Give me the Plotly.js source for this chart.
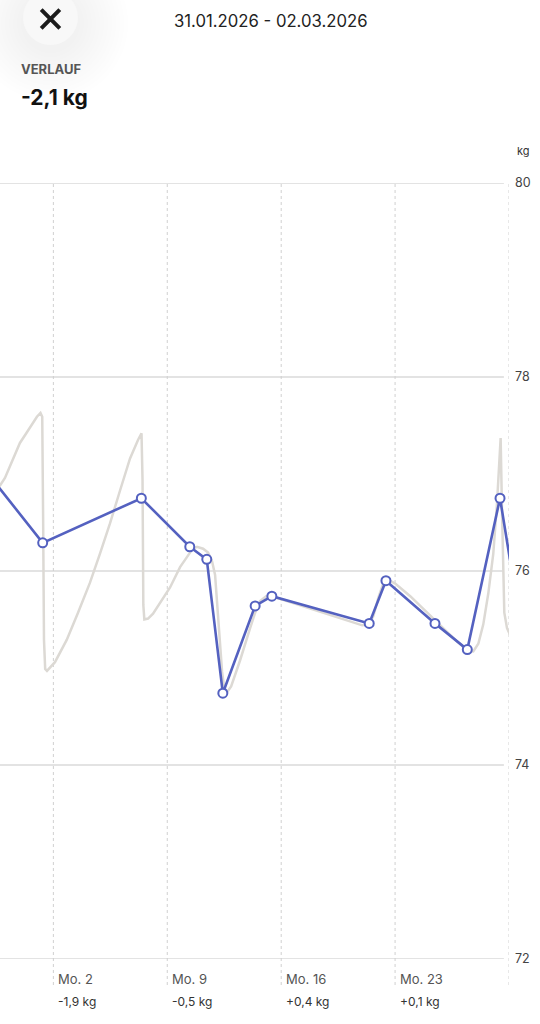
<!DOCTYPE html>
<html><head><meta charset="utf-8">
<script src="https://cdn.plot.ly/plotly-3.0.1.min.js"></script>
<style>html,body{margin:0;padding:0;background:#fff;overflow:hidden}#chart{width:540px;height:1024px}</style>
</head><body><div id="chart"></div>
<script>
// ---------- data ----------
const dateRangeText = '31.01.2026 - 02.03.2026';
const summaryLabel = 'VERLAUF';
const summaryValue = '-2,1 kg';
const unitLabel = 'kg';

const weighDates = ['2026-01-29 09:00','2026-02-01 08:15','2026-02-07 09:45','2026-02-10 09:10','2026-02-11 10:15','2026-02-12 09:55','2026-02-14 09:35','2026-02-15 10:15','2026-02-21 09:50','2026-02-22 10:30','2026-02-25 10:50','2026-02-27 10:30','2026-03-01 10:45','2026-03-02 09:45'];
const weights = [76.92, 76.29, 76.75, 76.25, 76.12, 74.74, 75.64, 75.74, 75.46, 75.90, 75.46, 75.19, 76.75, 75.76];

const trendDates = ['2026-01-29 05:20','2026-01-29 17:10','2026-01-30 00:35','2026-01-30 12:20','2026-01-30 22:40','2026-01-31 09:00','2026-01-31 17:50','2026-01-31 23:45','2026-02-01 05:00','2026-02-01 07:35','2026-02-01 08:55','2026-02-01 10:10','2026-02-01 11:55','2026-02-01 14:35','2026-02-02 02:20','2026-02-02 19:40','2026-02-03 12:20','2026-02-04 06:00','2026-02-04 20:45','2026-02-05 11:30','2026-02-06 02:20','2026-02-06 17:05','2026-02-07 04:50','2026-02-07 10:00','2026-02-07 11:30','2026-02-07 12:40','2026-02-07 14:10','2026-02-07 19:40','2026-02-08 03:00','2026-02-08 16:20','2026-02-09 04:05','2026-02-09 18:50','2026-02-10 05:10','2026-02-10 12:35','2026-02-10 19:55','2026-02-11 04:50','2026-02-11 12:10','2026-02-11 18:05','2026-02-11 22:30','2026-02-12 02:55','2026-02-12 05:55','2026-02-12 08:50','2026-02-12 11:50','2026-02-12 16:15','2026-02-12 22:10','2026-02-13 11:25','2026-02-14 02:10','2026-02-14 09:35','2026-02-14 16:55','2026-02-15 01:50','2026-02-15 10:40','2026-02-16 13:15','2026-02-17 18:45','2026-02-19 00:15','2026-02-20 05:45','2026-02-20 23:30','2026-02-21 08:20','2026-02-21 15:45','2026-02-21 23:05','2026-02-22 06:30','2026-02-22 13:50','2026-02-23 00:10','2026-02-23 22:20','2026-02-24 20:30','2026-02-25 18:40','2026-02-26 16:45','2026-02-27 10:30','2026-02-27 19:20','2026-02-28 02:45','2026-02-28 10:05','2026-02-28 17:30','2026-03-01 00:50','2026-03-01 06:20','2026-03-01 09:45','2026-03-01 11:40','2026-03-01 13:40','2026-03-01 15:10','2026-03-01 17:05','2026-03-01 21:05','2026-03-02 04:55'];
const trendWeights = [76.81,76.88,76.96,77.16,77.32,77.43,77.53,77.59,77.63,77.59,76.52,75.29,74.99,74.97,75.06,75.29,75.57,75.88,76.18,76.49,76.83,77.16,77.35,77.42,76.94,75.65,75.50,75.51,75.56,75.70,75.83,76.04,76.15,76.22,76.25,76.23,76.19,76.10,75.96,75.57,75.23,74.96,74.80,74.75,74.81,75.08,75.41,75.57,75.69,75.74,75.74,75.68,75.61,75.54,75.48,75.44,75.45,75.53,75.72,75.87,75.91,75.87,75.74,75.59,75.43,75.29,75.18,75.17,75.25,75.45,75.77,76.18,76.70,77.14,77.37,76.63,76.04,75.57,75.41,75.29];

const weekStarts = ['2026-02-02','2026-02-09','2026-02-16','2026-02-23'];
const weekLabels = ['Mo. 2','Mo. 9','Mo. 16','Mo. 23'];
const weekChanges = ['-1,9 kg','-0,5 kg','+0,4 kg','+0,1 kg'];
const gridDates = weekStarts.concat(['2026-03-02']);
const yTicks = [72, 74, 76, 78, 80];
const xRange = ['2026-01-29 17:17', '2026-03-02 00:00'];
const yRange = [72, 80];

// ---------- styling ----------
const FONT = 'Inter, "Noto Sans", Roboto, sans-serif';
const BLUE = '#5461c0';
const TREND = '#dcd9d4';
const M = {l: 0, r: 31, t: 183, b: 65};
const W = 540, H = 1024;
const PW = W - M.l - M.r, PH = H - M.t - M.b;
const px2paperX = p => (p - M.l) / PW;
const shiftFromTop = p => M.t - p; // yshift from paper y=1

const shapes = [];
yTicks.forEach(v => shapes.push({type:'line', xref:'paper', yref:'y', x0:0, x1:0.99, y0:v, y1:v,
  line:{color:'#dadada', width:1.3}, layer:'below'}));
gridDates.forEach(d => shapes.push({type:'line', xref:'x', yref:'paper', x0:d, x1:d, y0:-26/PH, y1:1,
  line:{color:'#d0d0d0', width:1, dash:'dot'}, layer:'below'}));
const bx = px2paperX(50.5), by = 1 + (M.t - 17.5) / PH;
for (let r = 30; r <= 80; r += 4) {
  shapes.push({type:'circle', xref:'paper', yref:'paper', xsizemode:'pixel', ysizemode:'pixel',
    xanchor:bx, yanchor:by, x0:-r, x1:r, y0:-r-6, y1:r-6,
    fillcolor:'rgba(0,0,0,0.0055)', line:{width:0}, layer:'above'});
}
shapes.push({type:'circle', xref:'paper', yref:'paper', xsizemode:'pixel', ysizemode:'pixel',
  xanchor:bx, yanchor:by, x0:-27.5, x1:27.5, y0:-27.5, y1:27.5,
  fillcolor:'#f8f8f8', line:{width:0}, layer:'above'});
shapes.push({type:'path', xref:'paper', yref:'paper', xsizemode:'pixel', ysizemode:'pixel',
  xanchor:bx, yanchor:by - 1.5/PH, path:'M-9.3,-9.3 L9.3,9.3 M-9.3,9.3 L9.3,-9.3',
  line:{color:'#1b1b1b', width:4}, layer:'above'});

const annotations = [
  {xref:'paper', yref:'paper', x:px2paperX(270), y:1, yshift:shiftFromTop(20.7), xanchor:'center', yanchor:'middle',
   text:dateRangeText, showarrow:false, font:{family:FONT, size:16.7, color:'#222'}},
  {xref:'paper', yref:'paper', x:0, xshift:19, y:1, yshift:shiftFromTop(68.9), xanchor:'left', yanchor:'middle',
   text:summaryLabel, showarrow:false, font:{family:FONT, size:13, color:'#555', weight:700}},
  {xref:'paper', yref:'paper', x:0, xshift:18.5, y:1, yshift:shiftFromTop(97.5), xanchor:'left', yanchor:'middle',
   text:summaryValue, showarrow:false, font:{family:FONT, size:21, color:'#111', weight:700}},
  {xref:'paper', yref:'paper', x:1, xshift:6, y:1, yshift:shiftFromTop(150.7), xanchor:'left', yanchor:'middle',
   text:unitLabel, showarrow:false, font:{family:FONT, size:11, color:'#333'}}
];
weekStarts.forEach((d, i) => {
  annotations.push({xref:'x', yref:'paper', x:d, xshift:2.5, y:0, yshift:-20, xanchor:'left', yanchor:'middle',
    text:weekLabels[i], showarrow:false, font:{family:FONT, size:13, color:'#555'}});
  annotations.push({xref:'x', yref:'paper', x:d, xshift:2.5, y:0, yshift:-42, xanchor:'left', yanchor:'middle',
    text:weekChanges[i], showarrow:false, font:{family:FONT, size:12, color:'#333'}});
});

const traces = [
  {type:'scatter', mode:'lines', x:trendDates, y:trendWeights, hoverinfo:'skip',
   line:{color:TREND, width:2.5, shape:'linear'}},
  {type:'scatter', mode:'lines+markers', x:weighDates, y:weights, hoverinfo:'skip',
   line:{color:BLUE, width:2.6},
   marker:{size:9, color:'#ffffff', line:{color:BLUE, width:2}}}
];

const layout = {
  width:W, height:H, margin:Object.assign({autoexpand:false, pad:0}, M),
  paper_bgcolor:'#ffffff', plot_bgcolor:'#ffffff', showlegend:false,
  xaxis:{type:'date', range:xRange, showgrid:false, zeroline:false, showline:false,
    showticklabels:false, ticks:'', automargin:false, fixedrange:true},
  yaxis:{range:yRange, side:'right', tickvals:yTicks, ticktext:yTicks.map(String),
    showgrid:false, zeroline:false, showline:false, ticks:'', automargin:false,
    ticklabelstandoff:5, tickfont:{family:FONT, size:12.5, color:'#444'}, fixedrange:true},
  shapes:shapes, annotations:annotations
};

Plotly.newPlot('chart', traces, layout, {displayModeBar:false, staticPlot:true});
</script>
</body></html>
